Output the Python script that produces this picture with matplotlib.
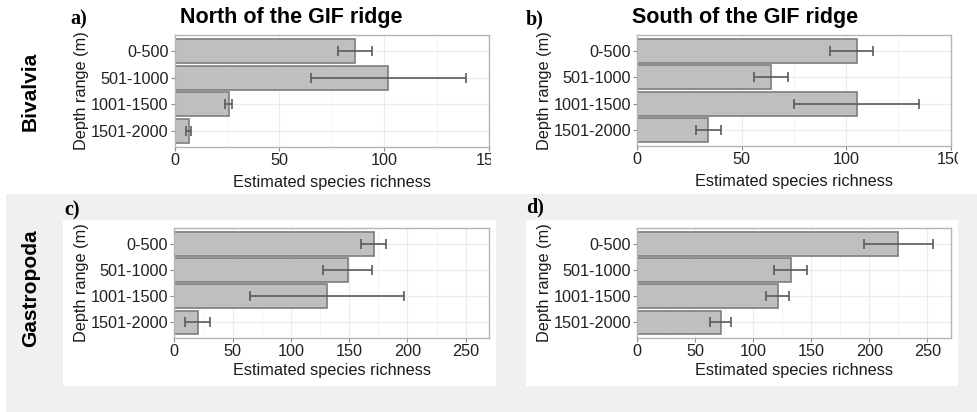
import matplotlib
matplotlib.use('Agg')
import matplotlib.pyplot as plt
import matplotlib.patches as patches
import numpy as np

plt.rcParams['font.family'] = ['Liberation Sans', 'DejaVu Sans']

depths = ['0-500', '501-1000', '1001-1500', '1501-2000']

# Bivalvia, north / south of the ridge
biv_north = [86, 102, 26, 7]
biv_north_lo = [78, 65, 24, 5.5]
biv_north_hi = [94, 139, 27.5, 8]
biv_south = [105, 64, 105, 34]
biv_south_lo = [92, 56, 75, 28]
biv_south_hi = [113, 72, 135, 40]

# Gastropoda, north / south of the ridge
gas_north = [171, 149, 131, 20]
gas_north_lo = [160, 128, 65, 9]
gas_north_hi = [182, 170, 197, 31]
gas_south = [225, 132, 121, 72]
gas_south_lo = [195, 118, 111, 63]
gas_south_hi = [255, 146, 131, 81]

W, H = 977, 412
fig = plt.figure(figsize=(W / 100, H / 100), dpi=100)
fig.patch.set_facecolor('white')

LAB = 11.7  # axis text size


def px_rect(x0, y0, x1, y1, color, z):
    # rectangle in pixel coords (origin top-left)
    r = patches.Rectangle((x0 / W, 1 - y1 / H), (x1 - x0) / W, (y1 - y0) / H,
                          transform=fig.transFigure, facecolor=color,
                          edgecolor='none', zorder=z)
    fig.add_artist(r)


def px_axes(x0, y0, x1, y1, z=1):
    return fig.add_axes([x0 / W, 1 - y1 / H, (x1 - x0) / W, (y1 - y0) / H], zorder=z)


def panel(ax, vals, lo, hi, xmax, ticks, xpad):
    y = np.arange(len(depths))[::-1] + 1
    ax.set_facecolor('white')
    ax.set_xlim(0, xmax)
    ax.set_ylim(0.4, len(depths) + 0.6)
    ax.set_xticks(ticks)
    ax.set_xticks([t + 25 for t in ticks if t + 25 < xmax], minor=True)
    ax.set_yticks(y)
    ax.set_yticklabels(depths)
    ax.grid(True, which='major', color='#ebebeb', lw=0.8, zorder=0)
    ax.grid(True, which='minor', axis='x', color='#f3f3f3', lw=0.6, zorder=0)
    ax.set_axisbelow(True)
    ax.barh(y, vals, height=0.9, color='#bfbfbf', edgecolor='#7d7d7d', lw=1.2, zorder=2)
    err = [np.array(vals) - np.array(lo), np.array(hi) - np.array(vals)]
    ax.errorbar(vals, y, xerr=err, fmt='none', ecolor='#5a5a5a', elinewidth=1.2,
                capsize=3.5, capthick=1.2, zorder=3)
    for s in ax.spines.values():
        s.set_color('#b5b5b5')
        s.set_linewidth(1.0)
    ax.tick_params(axis='both', which='major', labelsize=LAB, colors='#8a8a8a',
                   labelcolor='#222222', length=3, width=0.8, pad=1.5)
    ax.tick_params(which='minor', length=0)
    ax.set_xlabel('Estimated species richness', fontsize=LAB, color='#1a1a1a', labelpad=xpad)
    ax.set_ylabel('Depth range (m)', fontsize=LAB, color='#1a1a1a', labelpad=1)


# grey backdrop behind the gastropod row, white cards for each panel
px_rect(6, 194, W, H, '#f0f0f0', 0.1)
px_rect(63, 220, 496, 386, 'white', 0.2)
px_rect(526, 220, 958, 386, 'white', 0.2)

ax_a = px_axes(174.7, 35, 489, 147, z=1)
panel(ax_a, biv_north, biv_north_lo, biv_north_hi, 150, [0, 50, 100, 150], 5)
ax_b = px_axes(637.3, 35, 950.7, 146, z=3)
panel(ax_b, biv_south, biv_south_lo, biv_south_hi, 150, [0, 50, 100, 150], 5)
ax_c = px_axes(174.3, 228, 489, 338, z=1)
panel(ax_c, gas_north, gas_north_lo, gas_north_hi, 270, [0, 50, 100, 150, 200, 250], 3)
ax_d = px_axes(637.3, 228, 950.7, 338, z=1)
panel(ax_d, gas_south, gas_south_lo, gas_south_hi, 270, [0, 50, 100, 150, 200, 250], 3)

# top-row panels are cut at their right edge
px_rect(491, 0, 560, 193, 'white', 2)
px_rect(958, 0, W, 193, 'white', 4)

fig.text(180 / W, 1 - 18 / H, 'North of the GIF ridge', fontsize=15.5, fontweight='bold',
         ha='left', va='center')
fig.text(632 / W, 1 - 18 / H, 'South of the GIF ridge', fontsize=15.5, fontweight='bold',
         ha='left', va='center')
for lab, x, yy in [('a)', 70, 19), ('b)', 526, 19), ('c)', 64, 210), ('d)', 526, 207)]:
    fig.text(x / W, 1 - yy / H, lab, fontsize=14.5, fontweight='bold',
             family=['Liberation Serif', 'DejaVu Serif'], ha='left', va='center', zorder=5)

fig.text(30 / W, 1 - 91 / H, 'Bivalvia', fontsize=15, fontweight='bold', rotation=90,
         ha='center', va='center')
fig.text(31 / W, 1 - 288 / H, 'Gastropoda', fontsize=15, fontweight='bold', rotation=90,
         ha='center', va='center', zorder=5)

fig.savefig('out.png', dpi=100)
